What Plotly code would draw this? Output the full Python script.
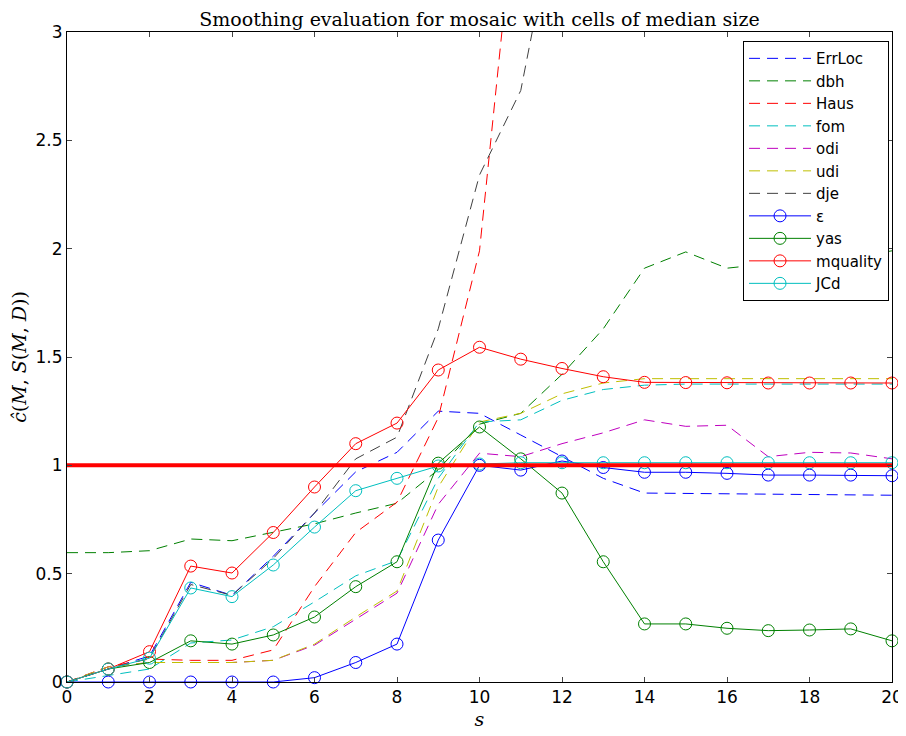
import plotly.graph_objects as go

s = list(range(21))

# dashed series
errloc = [0, 0.06, 0.12, 0.46, 0.40, 0.58, 0.78, 0.97, 1.06, 1.25, 1.24, 1.14, 1.04, 0.94, 0.872, 0.87, 0.868, 0.866, 0.865, 0.863, 0.862]
dbh = [0.597, 0.597, 0.606, 0.66, 0.652, 0.692, 0.73, 0.78, 0.825, 0.98, 1.19, 1.24, 1.42, 1.63, 1.91, 1.985, 1.91, 1.93, 1.95, 1.96, 1.99]
haus = [0, 0.07, 0.106, 0.10, 0.10, 0.148, 0.44, 0.69, 0.83, 1.22, 1.99, 3.85, 4.6, 5.1, 5.4, 5.6, 5.8, 5.9, 6.0, 6.1, 6.2]
fom = [0, 0.03, 0.06, 0.18, 0.194, 0.255, 0.37, 0.49, 0.56, 0.94, 1.20, 1.21, 1.30, 1.35, 1.37, 1.375, 1.375, 1.375, 1.375, 1.375, 1.375]
odi = [0, 0.07, 0.09, 0.09, 0.09, 0.10, 0.17, 0.29, 0.41, 0.82, 1.056, 1.04, 1.10, 1.15, 1.21, 1.18, 1.185, 1.04, 1.06, 1.057, 1.03]
udi = [0, 0.07, 0.09, 0.09, 0.09, 0.10, 0.175, 0.30, 0.42, 0.90, 1.20, 1.24, 1.33, 1.38, 1.40, 1.40, 1.40, 1.40, 1.40, 1.40, 1.40]
dje = [0, 0.06, 0.11, 0.45, 0.40, 0.57, 0.78, 1.03, 1.13, 1.63, 2.34, 2.73, 3.7, 4.3, 4.7, 5.0, 5.2, 5.4, 5.5, 5.6, 5.7]

# solid series with circle markers
eps = [0, 0, 0, 0, 0, 0, 0.02, 0.09, 0.175, 0.655, 1.0, 0.978, 1.02, 0.99, 0.968, 0.968, 0.963, 0.955, 0.955, 0.955, 0.952]
yas = [0, 0.06, 0.09, 0.19, 0.175, 0.217, 0.30, 0.44, 0.555, 1.01, 1.177, 1.03, 0.872, 0.555, 0.268, 0.268, 0.248, 0.237, 0.24, 0.245, 0.19]
mquality = [0, 0.06, 0.14, 0.535, 0.503, 0.69, 0.90, 1.10, 1.195, 1.44, 1.545, 1.49, 1.447, 1.409, 1.383, 1.382, 1.381, 1.38, 1.38, 1.38, 1.38]
jcd = [0, 0.06, 0.11, 0.434, 0.394, 0.54, 0.715, 0.883, 0.94, 0.997, 1.006, 1.012, 1.012, 1.012, 1.012, 1.012, 1.012, 1.012, 1.012, 1.012, 1.012]

ref_x = [0, 20]
ref_y = [1, 1]

x_ticks = list(range(0, 21, 2))
y_ticks = [0, 0.5, 1, 1.5, 2, 2.5, 3]
y_tick_labels = ["0", "0.5", "1", "1.5", "2", "2.5", "3"]

BLUE = "rgb(0,0,255)"
GREEN = "rgb(0,128,0)"
RED = "rgb(255,0,0)"
CYAN = "rgb(0,191,191)"
MAGENTA = "rgb(191,0,191)"
YELLOW = "rgb(191,191,0)"
DARK = "rgb(64,64,64)"

DASH = "11px,7px"
SANS = "DejaVu Sans, Liberation Sans, Arial, sans-serif"
SERIF = "DejaVu Serif, serif"

fig = go.Figure()

dashed = [
    ("ErrLoc", errloc, BLUE),
    ("dbh", dbh, GREEN),
    ("Haus", haus, RED),
    ("fom", fom, CYAN),
    ("odi", odi, MAGENTA),
    ("udi", udi, YELLOW),
    ("dje", dje, DARK),
]
for name, vals, col in dashed:
    fig.add_trace(go.Scatter(x=s, y=vals, name=name, mode="lines",
                             line=dict(color=col, width=1, dash=DASH)))

solid = [
    ("ε", eps, BLUE),
    ("yas", yas, GREEN),
    ("mquality", mquality, RED),
    ("JCd", jcd, CYAN),
]
for name, vals, col in solid:
    fig.add_trace(go.Scatter(x=s, y=vals, name=name, mode="lines+markers",
                             line=dict(color=col, width=1),
                             marker=dict(symbol="circle-open", size=12, color=col, line=dict(width=1, color=col)),
                             cliponaxis=False))

fig.add_trace(go.Scatter(x=ref_x, y=ref_y, mode="lines", showlegend=False,
                         line=dict(color=RED, width=4), hoverinfo="skip"))

# page body adds an 8px offset, so the figure is sized to compensate
fig.update_layout(
    width=898, height=728,
    margin=dict(l=59, r=14, t=24, b=54),
    plot_bgcolor="white", paper_bgcolor="white",
    font=dict(family=SANS, size=17, color="black"),
    title=dict(text="Smoothing evaluation for mosaic with cells of median size",
               x=(479.5 - 8) / 898, xanchor="center", y=1 - 11 / 728, yanchor="middle",
               font=dict(family=SERIF, size=19, color="black")),
    showlegend=True,
    legend=dict(x=0.9964, xanchor="right", y=0.986, yanchor="top",
                bgcolor="white", bordercolor="black", borderwidth=1,
                font=dict(family=SANS, size=15),
                tracegroupgap=0, itemwidth=62),
)

fig.update_xaxes(range=[0, 20], tickvals=x_ticks, ticks="inside", ticklen=5,
                 showline=True, linecolor="black", linewidth=1, mirror="ticks",
                 showgrid=False, zeroline=False, automargin=False,
                 title=dict(text="<i>s</i>", font=dict(family=SERIF, size=19), standoff=6))
fig.update_yaxes(range=[0, 3], tickvals=y_ticks, ticktext=y_tick_labels, ticks="inside", ticklen=5,
                 showline=True, linecolor="black", linewidth=1, mirror="ticks",
                 showgrid=False, zeroline=False, automargin=False,
                 title=dict(text="<i>ĉ</i>(<i>M</i>, <i>S</i>(<i>M</i>, <i>D</i>))",
                            font=dict(family=SERIF, size=19), standoff=4))

fig.write_html("out.html")
